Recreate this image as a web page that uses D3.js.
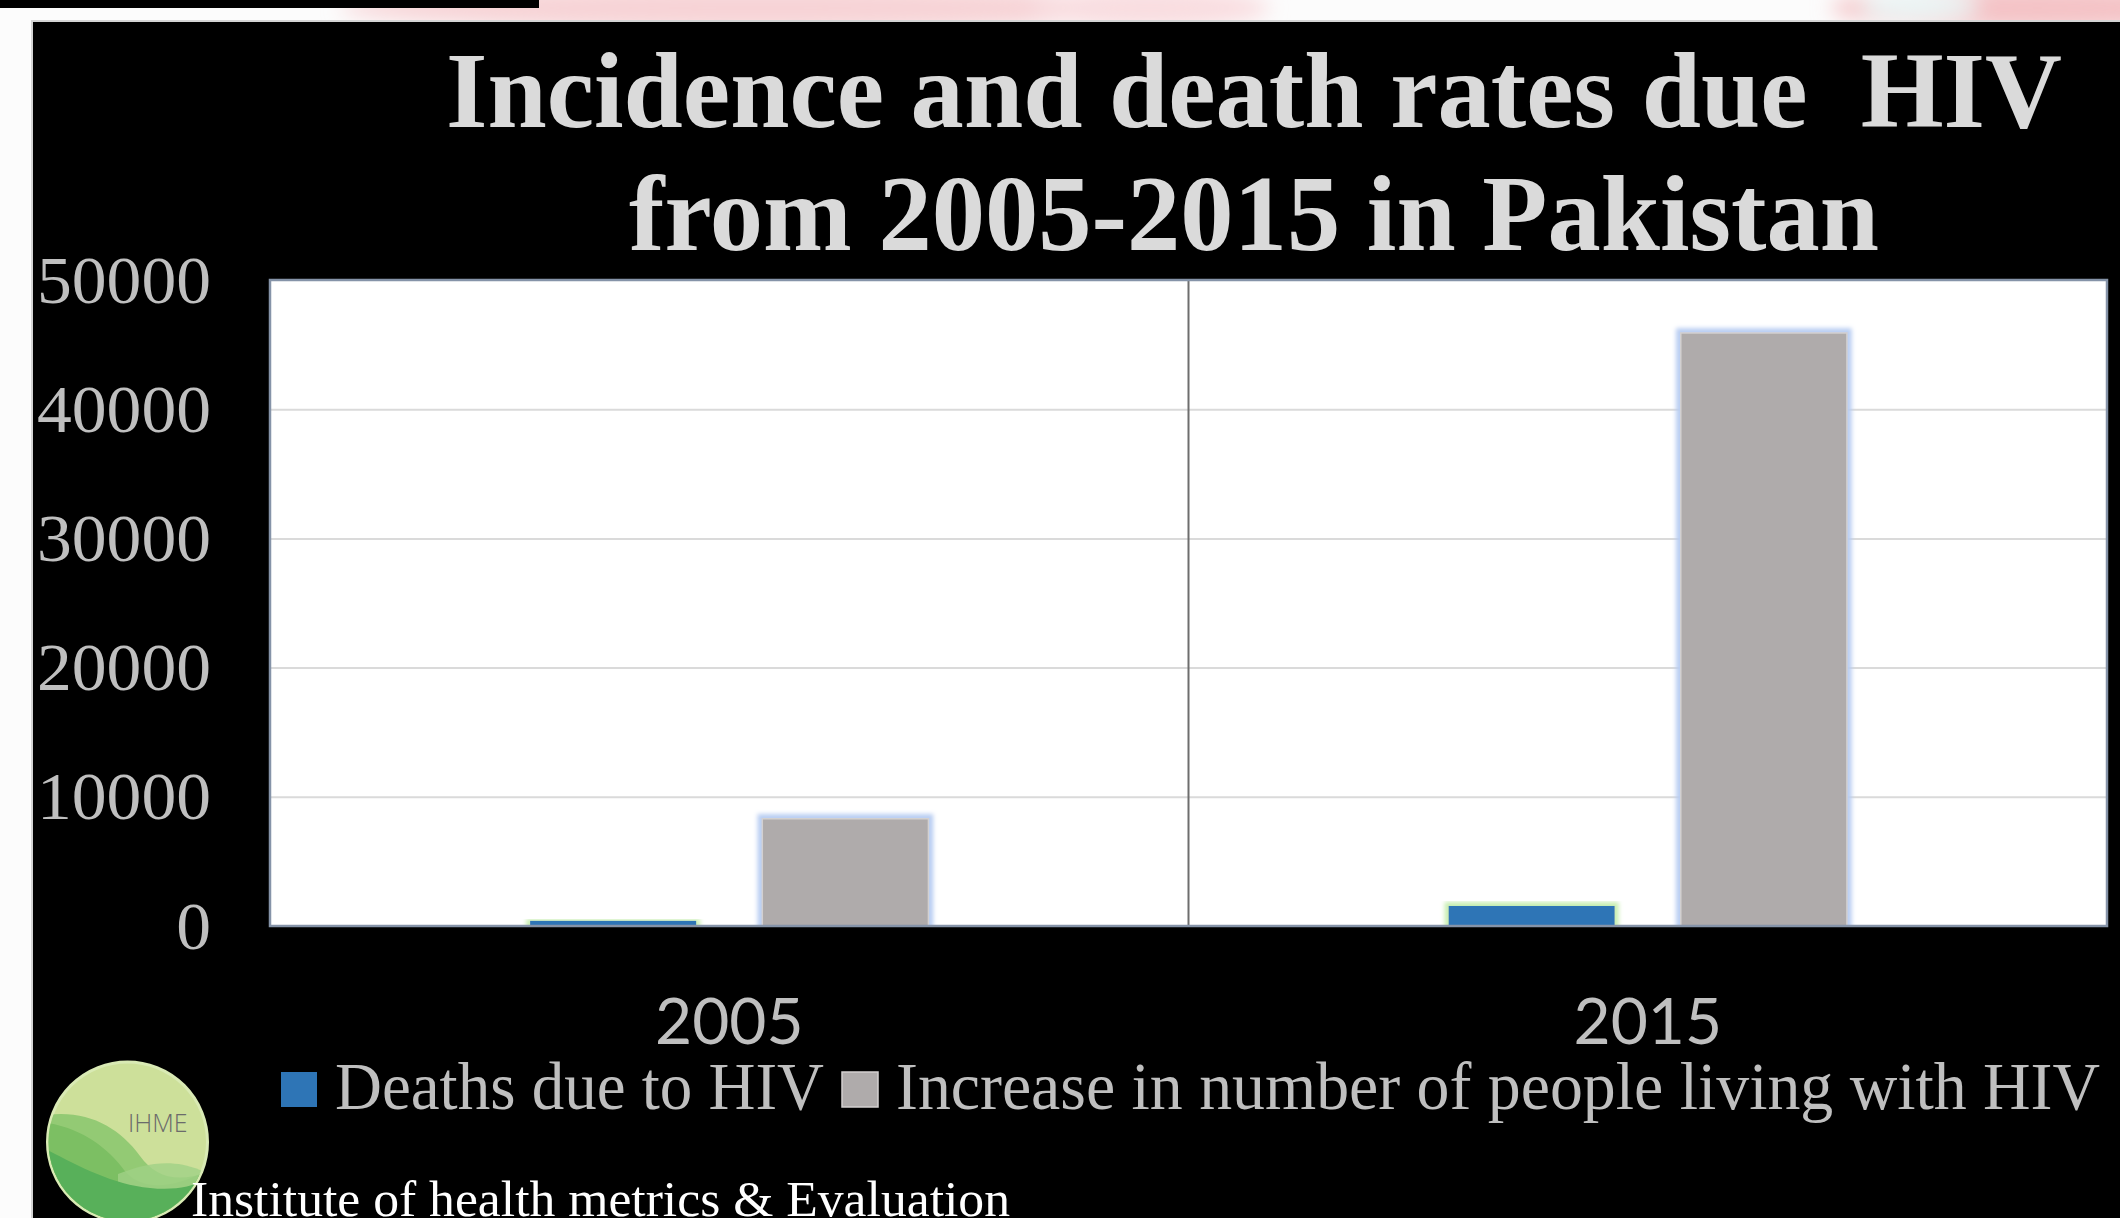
<!DOCTYPE html>
<html>
<head>
<meta charset="utf-8">
<script src="https://cdn.jsdelivr.net/npm/d3@7"></script>
<style>
  html, body { margin: 0; padding: 0; background: #ffffff; overflow: hidden; }
</style>
</head>
<body>
<div id="chart"></div>
<script>
// Chart data
const years = ["2005", "2015"];
const seriesNames = ["Deaths due to HIV", "Increase in number of people living with HIV"];
const deaths = [400, 1550];
const increase = [8300, 45900];
const yTicks = [0, 10000, 20000, 30000, 40000, 50000];
const titleLines = ["Incidence and death rates due  HIV", "from 2005-2015 in Pakistan"];
const footerText = "Institute of health metrics & Evaluation";
const logoText = "IHME";

class Chart {
    constructor() {
        // Defining state attributes
        const attrs = {
            container: "#chart",
            svgWidth: 2120,
            svgHeight: 1218,
            panelLeft: 32,
            panelTop: 21,
            plotLeft: 270,
            plotTop: 280,
            plotRight: 2107,
            plotBottom: 926,
            barColors: ["#2e75b6", "#afabab"],
            glowColors: ["#c8eeb2", "#b8cdf2"],
            labelFill: "#bfbfbf",
            titleFill: "#dadada",
            serifFont: "'Liberation Serif', 'Times New Roman', serif",
            sansFont: "Lato, 'Open Sans', sans-serif"
        };

        // Defining accessors
        this.getState = () => attrs;
        this.setState = (d) => Object.assign(attrs, d);
    }

    render() {
        this.drawSvgAndWrappers();
        this.drawTitle();
        this.drawPlot();
        this.drawLegend();
        this.drawLogo();
        return this;
    }

    drawSvgAndWrappers() {
        const {
            container, svgWidth, svgHeight, panelLeft, panelTop, glowColors,
            plotLeft, plotTop, plotRight, plotBottom
        } = this.getState();

        const svg = d3.select(container)
            .append("svg")
            .attr("width", svgWidth)
            .attr("height", svgHeight);

        const defs = svg.append("defs");

        // soft outer glow round the bars
        glowColors.forEach((c, i) => {
            const f = defs.append("filter")
                .attr("id", "glow" + i)
                .attr("x", "-20%").attr("y", "-20%")
                .attr("width", "140%").attr("height", "140%");
            f.append("feMorphology").attr("in", "SourceAlpha").attr("operator", "dilate").attr("radius", 4).attr("result", "grow");
            f.append("feGaussianBlur").attr("in", "grow").attr("stdDeviation", 2.2).attr("result", "blur");
            f.append("feFlood").attr("flood-color", c).attr("result", "col");
            f.append("feComposite").attr("in", "col").attr("in2", "blur").attr("operator", "in").attr("result", "glow");
            const m = f.append("feMerge");
            m.append("feMergeNode").attr("in", "glow");
            m.append("feMergeNode").attr("in", "SourceGraphic");
        });

        defs.append("filter").attr("id", "bgBlur")
            .append("feGaussianBlur").attr("stdDeviation", 10);

        defs.append("clipPath").attr("id", "logoClip")
            .append("circle").attr("cx", 127.5).attr("cy", 1142).attr("r", 79);

        defs.append("clipPath").attr("id", "plotClip")
            .append("rect")
            .attr("x", plotLeft).attr("y", plotTop)
            .attr("width", plotRight - plotLeft).attr("height", plotBottom - plotTop);

        // slide background behind the black panel
        svg.append("rect").attr("width", svgWidth).attr("height", svgHeight).attr("fill", "#fcfcfc");
        const bg = svg.append("g").attr("filter", "url(#bgBlur)");
        bg.append("ellipse").attr("cx", 760).attr("cy", 8).attr("rx", 420).attr("ry", 22).attr("fill", "#f7d3d6");
        bg.append("ellipse").attr("cx", 1150).attr("cy", 8).attr("rx", 120).attr("ry", 20).attr("fill", "#f9dde0");
        bg.append("ellipse").attr("cx", 2040).attr("cy", 8).attr("rx", 210).attr("ry", 22).attr("fill", "#f4c3c6");
        bg.append("ellipse").attr("cx", 1920).attr("cy", 6).attr("rx", 60).attr("ry", 14).attr("fill", "#eaf6f6");
        svg.append("rect").attr("x", 0).attr("y", 0).attr("width", 539).attr("height", 8).attr("fill", "#000");

        svg.append("rect")
            .attr("x", panelLeft).attr("y", panelTop)
            .attr("width", svgWidth - panelLeft + 5).attr("height", svgHeight - panelTop + 5)
            .attr("fill", "#000")
            .attr("stroke", "#d4d4d4").attr("stroke-width", 2);

        this.setState({ svg });
    }

    drawTitle() {
        const { svg, serifFont, titleFill } = this.getState();
        const widths = [1616, 1250];
        const baselines = [127, 250];

        svg.append("g")
            .selectAll("text")
            .data(titleLines)
            .join("text")
            .attr("x", 1254)
            .attr("y", (d, i) => baselines[i])
            .attr("text-anchor", "middle")
            .attr("textLength", (d, i) => widths[i])
            .attr("lengthAdjust", "spacingAndGlyphs")
            .style("white-space", "pre")
            .attr("font-family", serifFont)
            .attr("font-weight", "bold")
            .attr("font-size", 108)
            .attr("fill", titleFill)
            .text(d => d);
    }

    drawPlot() {
        const {
            svg, plotLeft, plotTop, plotRight, plotBottom,
            barColors, labelFill, serifFont, sansFont
        } = this.getState();

        const rows = years.map((year, i) => ({ year, values: [deaths[i], increase[i]] }));

        const x0 = d3.scaleBand().domain(years).range([plotLeft, plotRight]).padding(0);
        const x1 = d3.scaleBand().domain(d3.range(seriesNames.length))
            .range([0, x0.bandwidth()])
            .paddingInner(0.2845)
            .paddingOuter(1.12);
        const y = d3.scaleLinear().domain([0, 50000]).range([plotBottom, plotTop]);

        svg.append("rect")
            .attr("x", plotLeft).attr("y", plotTop)
            .attr("width", plotRight - plotLeft).attr("height", plotBottom - plotTop)
            .attr("fill", "#ffffff");

        // gridlines
        const grid = svg.append("g")
            .attr("transform", `translate(${plotLeft},0)`)
            .call(d3.axisLeft(y).tickValues(yTicks.slice(1, -1)).tickSize(-(plotRight - plotLeft)).tickFormat(""));
        grid.select(".domain").remove();
        grid.selectAll("line").attr("stroke", "#dadada").attr("stroke-width", 2);

        // divider between the two years
        svg.append("line")
            .attr("x1", x0(years[1])).attr("x2", x0(years[1]))
            .attr("y1", plotTop).attr("y2", plotBottom)
            .attr("stroke", "#6e6e6e").attr("stroke-width", 2);

        // bars
        const groups = svg.append("g")
            .attr("clip-path", "url(#plotClip)")
            .selectAll("g")
            .data(rows)
            .join("g")
            .attr("transform", d => `translate(${x0(d.year)},0)`);

        groups.selectAll("rect")
            .data(d => d.values.map((v, i) => ({ v, i })))
            .join("rect")
            .attr("x", d => x1(d.i))
            .attr("y", d => y(d.v))
            .attr("width", x1.bandwidth())
            .attr("height", d => y(0) - y(d.v))
            .attr("fill", d => barColors[d.i])
            .attr("stroke", d => d.i === 1 ? "#d3d0d0" : "none")
            .attr("stroke-width", 1.5)
            .attr("filter", d => `url(#glow${d.i})`);

        // plot border
        svg.append("rect")
            .attr("x", plotLeft).attr("y", plotTop)
            .attr("width", plotRight - plotLeft).attr("height", plotBottom - plotTop)
            .attr("fill", "none")
            .attr("stroke", "#8593a8").attr("stroke-width", 2.5);

        // y axis labels
        const fmt = d3.format("d");
        const yAxis = svg.append("g")
            .attr("transform", `translate(${plotLeft},0)`)
            .call(d3.axisLeft(y).tickValues(yTicks).tickSize(0).tickPadding(59).tickFormat(fmt));
        yAxis.select(".domain").remove();
        yAxis.selectAll("text")
            .attr("font-family", serifFont)
            .attr("font-size", 67)
            .attr("fill", labelFill)
            .attr("dy", "0.33em")
            .attr("textLength", d => fmt(d).length * 34.8)
            .attr("lengthAdjust", "spacingAndGlyphs");

        // x axis labels
        const xAxis = svg.append("g")
            .attr("transform", `translate(0,${plotBottom})`)
            .call(d3.axisBottom(x0).tickSize(0));
        xAxis.select(".domain").remove();
        xAxis.selectAll("text")
            .attr("y", 118)
            .attr("dy", 0)
            .attr("font-family", sansFont)
            .attr("font-size", 64)
            .attr("fill", labelFill);
    }

    drawLegend() {
        const { svg, barColors, labelFill, serifFont } = this.getState();
        const swatchX = [281, 842];
        const textX = [335, 896];
        const textW = [489, 1204];

        const items = svg.append("g")
            .selectAll("g")
            .data(seriesNames)
            .join("g");

        items.append("rect")
            .attr("x", (d, i) => swatchX[i])
            .attr("y", 1072)
            .attr("width", 36)
            .attr("height", 35)
            .attr("fill", (d, i) => barColors[i])
            .attr("stroke", (d, i) => i === 1 ? "#d3d0d0" : "none")
            .attr("stroke-width", 1.5);

        items.append("text")
            .attr("x", (d, i) => textX[i])
            .attr("y", 1109)
            .attr("textLength", (d, i) => textW[i])
            .attr("lengthAdjust", "spacingAndGlyphs")
            .attr("font-family", serifFont)
            .attr("font-size", 67)
            .attr("fill", labelFill)
            .text(d => d);
    }

    drawLogo() {
        const { svg, serifFont } = this.getState();

        const logo = svg.append("g");
        logo.append("circle")
            .attr("cx", 127.5).attr("cy", 1142).attr("r", 80)
            .attr("fill", "#cde09a")
            .attr("stroke", "#d9eab4").attr("stroke-width", 3);

        const waves = logo.append("g").attr("clip-path", "url(#logoClip)");
        waves.append("path")
            .attr("d", "M40,1116 C85,1108 118,1126 140,1156 C156,1178 178,1184 215,1170 L215,1240 L40,1240 Z")
            .attr("fill", "#93ca74");
        waves.append("path")
            .attr("d", "M40,1122 C80,1126 108,1148 124,1170 C140,1190 172,1192 215,1166 L215,1240 L40,1240 Z")
            .attr("fill", "#7cbf63");
        waves.append("path")
            .attr("d", "M118,1174 C145,1164 170,1158 200,1170 L215,1178 L215,1240 L118,1240 Z")
            .attr("fill", "#a0d186").attr("opacity", 0.8);
        waves.append("path")
            .attr("d", "M40,1146 C75,1164 110,1184 150,1188 C176,1191 196,1186 215,1176 L215,1240 L40,1240 Z")
            .attr("fill", "#58b05a");

        logo.append("text")
            .attr("x", 128).attr("y", 1132)
            .attr("font-family", "'Open Sans', sans-serif")
            .attr("font-weight", 300)
            .attr("font-size", 25)
            .attr("fill", "#6b6b6b")
            .text(logoText);

        svg.append("text")
            .attr("x", 191).attr("y", 1216)
            .attr("textLength", 819)
            .attr("lengthAdjust", "spacingAndGlyphs")
            .attr("font-family", serifFont)
            .attr("font-size", 50)
            .attr("fill", "#ffffff")
            .text(footerText);
    }
}

new Chart().render();
</script>
</body>
</html>
